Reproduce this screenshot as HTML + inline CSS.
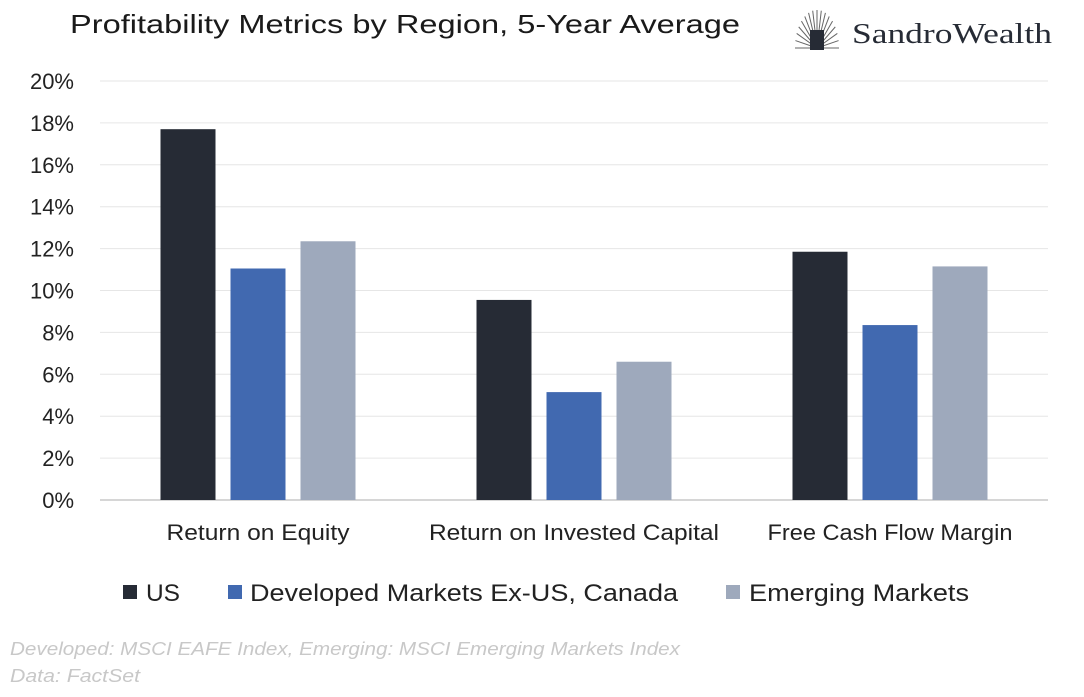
<!DOCTYPE html>
<html><head><meta charset="utf-8"><style>
body{margin:0;background:#fff;width:1084px;height:692px;overflow:hidden;font-family:"Liberation Sans",sans-serif}
</style></head><body>
<svg id="c" width="1084" height="692" xmlns="http://www.w3.org/2000/svg">
<text x="70" y="33" font-size="26" textLength="670" lengthAdjust="spacingAndGlyphs" fill="#1a1a1a">Profitability Metrics by Region, 5-Year Average</text>
<g>
<g id="rays" stroke="#666" stroke-width="1"></g>
<rect x="810" y="30" width="14" height="20" fill="#262b35"/>
<text x="852" y="43" font-family="Liberation Serif,serif" font-size="28" textLength="200" lengthAdjust="spacingAndGlyphs" fill="#262b35">SandroWealth</text>
</g>
<g id="grid"></g><g id="bars"></g>
<g>
<rect x="123" y="585" width="14" height="14" fill="#262b35"/>
<text x="146" y="601" font-size="24" textLength="34" lengthAdjust="spacingAndGlyphs" fill="#222">US</text>
<rect x="228" y="585" width="14" height="14" fill="#4169b0"/>
<text x="250" y="601" font-size="24" textLength="428" lengthAdjust="spacingAndGlyphs" fill="#222">Developed Markets Ex-US, Canada</text>
<rect x="726" y="585" width="14" height="14" fill="#9ea9bc"/>
<text x="749" y="601" font-size="24" textLength="220" lengthAdjust="spacingAndGlyphs" fill="#222">Emerging Markets</text>
</g>
<text x="10" y="655" font-size="18" font-style="italic" textLength="670" lengthAdjust="spacingAndGlyphs" fill="#c8c8c8">Developed: MSCI EAFE Index, Emerging: MSCI Emerging Markets Index</text>
<text x="10" y="682" font-size="18" font-style="italic" textLength="130" lengthAdjust="spacingAndGlyphs" fill="#c8c8c8">Data: FactSet</text>
</svg>
<script>
const categories=["Return on Equity","Return on Invested Capital","Free Cash Flow Margin"];
const usValues=[17.7,9.55,11.85];
const dmValues=[11.05,5.15,8.35];
const emValues=[12.35,6.6,11.15];
const yTicks=[0,2,4,6,8,10,12,14,16,18,20];
const catLabelWidths=[183,290,245];
const ns="http://www.w3.org/2000/svg";
const x0=100,x1=1048,y0=500,y1=81;
const yS=v=>y0-(v/20)*(y0-y1);
const bw=(x1-x0)/categories.length;
const grid=document.getElementById('grid'),bars=document.getElementById('bars');
function mk(tag,a,p){const e=document.createElementNS(ns,tag);for(const k in a)e.setAttribute(k,a[k]);p.appendChild(e);return e;}
yTicks.forEach(t=>{
 const l=mk('line',{x1:x0,x2:x1,y1:yS(t),y2:yS(t),stroke:t===0?'#c8c8c8':'#e6e6e6','stroke-width':t===0?1.5:1},grid);
 
 
 const tx=mk('text',{x:74,y:yS(t)+8,'font-size':22,fill:'#222','text-anchor':'end'},grid);
 tx.textContent=t+'%';
 
 
});
const series=[[usValues,'#262b35','us'],[dmValues,'#4169b0','dm'],[emValues,'#9ea9bc','em']];
categories.forEach((c,i)=>{
 const cx=x0+bw*(i+0.5);
 series.forEach(([vals,col,nm],j)=>{
  const bx=cx-97.5+j*70;
  const r=mk('rect',{x:bx,y:yS(vals[i]),width:55,height:y0-yS(vals[i]),fill:col},bars);
  
  
 });
 const t=mk('text',{x:cx-catLabelWidths[i]/2,y:540,'font-size':22,fill:'#222',textLength:catLabelWidths[i],lengthAdjust:'spacingAndGlyphs'},bars);
 t.textContent=c;
 
 
});
const rays=document.getElementById('rays');
for(let k=0;k<=16;k++){const a=Math.PI*(k/16);mk('line',{x1:817,y1:48,x2:817-Math.cos(a)*22,y2:48-Math.sin(a)*38},rays);}
</script>
</body></html>
